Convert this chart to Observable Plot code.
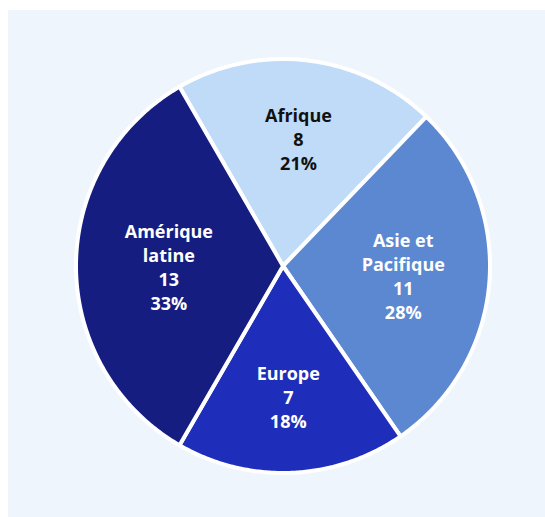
<!DOCTYPE html>
<html>
<head>
<meta charset="utf-8">
<script src="https://cdn.jsdelivr.net/npm/d3@7"></script>
<script src="https://cdn.jsdelivr.net/npm/@observablehq/plot@0.6"></script>
<style>
  html, body { margin: 0; padding: 0; background: #ffffff; }
  #wrap { position: relative; width: 545px; height: 517px; overflow: hidden; }
  #panel { position: absolute; left: 8px; top: 10px; right: 0; bottom: 0; background: #eef5fd; }
  #chart { position: absolute; left: 0; top: 0; }
</style>
</head>
<body>
<div id="wrap"><div id="panel"></div><div id="chart"></div></div>
<script>
const regions = ["Afrique", "Asie et Pacifique", "Europe", "Amérique latine"];
const labels = ["Afrique", "Asie et\nPacifique", "Europe", "Amérique\nlatine"];
const counts = [8, 11, 7, 13];
const percents = [21, 28, 18, 33];
const colors = ["#bfdbf7", "#5b88d1", "#1f2dbb", "#161d80"];

const start = -Math.PI / 6;
const arcs = d3.pie().sort(null).startAngle(start).endAngle(start + 2 * Math.PI)(counts);

function pt(a, r) { return [r * Math.sin(a), r * Math.cos(a)]; }

const slices = arcs.map((a, i) => {
  const ring = [[0, 0]];
  const n = Math.max(8, Math.ceil((a.endAngle - a.startAngle) / (Math.PI / 360)));
  for (let k = 0; k <= n; k++) {
    ring.push(pt(a.startAngle + (a.endAngle - a.startAngle) * k / n, 1));
  }
  ring.push([0, 0]);
  return {
    type: "Feature",
    properties: {region: regions[i], text: `${labels[i]}\n${counts[i]}\n${percents[i]}%`},
    geometry: {type: "Polygon", coordinates: [ring]}
  };
});

const circle = [];
for (let k = 0; k <= 360; k++) circle.push(pt(k * Math.PI / 180, 1));
const domain = {type: "Polygon", coordinates: [circle]};

const chart = Plot.plot({
  width: 545,
  height: 517,
  marginLeft: 75.5,
  marginRight: 55.5,
  marginTop: 58.5,
  marginBottom: 44.5,
  style: {background: "transparent"},
  projection: {type: "reflect-y", domain},
  color: {domain: regions, range: colors},
  marks: [
    Plot.geo(slices, {fill: d => d.properties.region, stroke: "white", strokeWidth: 4, strokeLinejoin: "round"}),
    Plot.text(slices, Plot.centroid({
      text: d => d.properties.text,
      fill: d => d.properties.region === "Afrique" ? "#111111" : "#ffffff",
      fontSize: 18, fontWeight: "bold", fontFamily: "Open Sans", lineHeight: 1.33
    }))
  ]
});
document.getElementById("chart").appendChild(chart);
</script>
</body>
</html>
